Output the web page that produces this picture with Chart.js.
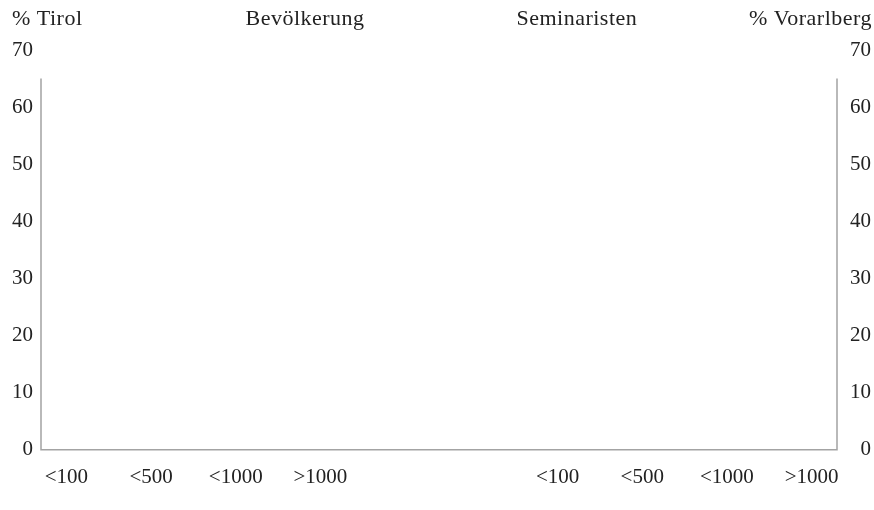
<!DOCTYPE html>
<html>
<head>
<meta charset="utf-8">
<script src="https://cdn.jsdelivr.net/npm/chart.js@4.4.0/dist/chart.umd.min.js"></script>
<style>
  html, body { margin: 0; padding: 0; background: #ffffff; }
  #c { display: block; }
</style>
</head>
<body>
<canvas id="c" width="874" height="510"></canvas>
<script>
// ---- data (no bars are visible, so all values are 0) ----
// category slots: empty strings are spacer slots between the labelled size classes
const categories = [
  '', '<100', '', '', '', '', '<500', '', '', '', '', '<1000', '', '', '', '', '>1000',
  '', '', '', '', '', '', '', '', '', '', '', '', '',
  '<100', '', '', '', '', '<500', '', '', '', '', '<1000', '', '', '', '', '>1000', ''
];
const tirolValues = [
  null, 0, null, null, null, null, 0, null, null, null, null, 0, null, null, null, null, 0,
  null, null, null, null, null, null, null, null, null, null, null, null, null,
  0, null, null, null, null, 0, null, null, null, null, 0, null, null, null, null, 0, null
];
const vorarlbergValues = [
  null, 0, null, null, null, null, 0, null, null, null, null, 0, null, null, null, null, 0,
  null, null, null, null, null, null, null, null, null, null, null, null, null,
  0, null, null, null, null, 0, null, null, null, null, 0, null, null, null, null, 0, null
];
const yTickValues = [0, 10, 20, 30, 40, 50, 60, 70];
const leftAxisTitle = '% Tirol';
const rightAxisTitle = '% Vorarlberg';
const groupTitles = ['Bevölkerung', 'Seminaristen'];

const FONT = '"Liberation Serif", "DejaVu Serif", serif';
const TEXT = '#222222';
const AXIS = '#a3a3a3';

const axisLines = {
  id: 'axisLines',
  afterDatasetsDraw(chart) {
    const { ctx, chartArea } = chart;
    const y = chart.scales.yL;
    const top = y.getPixelForValue(65);
    const bottom = y.getPixelForValue(0);
    ctx.save();
    ctx.strokeStyle = AXIS;
    ctx.lineWidth = 1.5;
    ctx.beginPath();
    ctx.moveTo(chartArea.left, top);
    ctx.lineTo(chartArea.left, bottom);
    ctx.lineTo(chartArea.right, bottom);
    ctx.lineTo(chartArea.right, top);
    ctx.stroke();
    ctx.restore();
  }
};

const headers = {
  id: 'headers',
  afterDraw(chart) {
    const ctx = chart.ctx;
    const W = chart.width;
    ctx.save();
    ctx.fillStyle = TEXT;
    ctx.font = '22px ' + FONT;
    ctx.letterSpacing = '0.5px';
    ctx.textBaseline = 'alphabetic';
    const baseY = 25;
    ctx.textAlign = 'left';
    ctx.fillText(leftAxisTitle, 12, baseY);
    ctx.textAlign = 'center';
    ctx.fillText(groupTitles[0], W * 0.349, baseY);
    ctx.fillText(groupTitles[1], W * 0.660, baseY);
    ctx.textAlign = 'right';
    ctx.fillText(rightAxisTitle, W - 2, baseY);
    ctx.restore();
  }
};

new Chart(document.getElementById('c'), {
  type: 'bar',
  data: {
    labels: categories,
    datasets: [
      { label: 'Tirol', data: tirolValues, yAxisID: 'yL', backgroundColor: '#777777', borderWidth: 0 },
      { label: 'Vorarlberg', data: vorarlbergValues, yAxisID: 'yR', backgroundColor: '#333333', borderWidth: 0 }
    ]
  },
  options: {
    responsive: false,
    animation: false,
    devicePixelRatio: 1,
    layout: { padding: { top: 50, left: 0, right: 3, bottom: 5 } },
    plugins: { legend: { display: false }, tooltip: { enabled: false }, title: { display: false } },
    scales: {
      x: {
        type: 'category',
        offset: true,
        grid: { display: false, drawTicks: false },
        border: { display: false },
        ticks: {
          autoSkip: false, maxRotation: 0, minRotation: 0, padding: 15,
          color: TEXT, font: { family: FONT, size: 21 }
        }
      },
      yL: {
        type: 'linear', position: 'left', min: 0, max: 70,
        afterBuildTicks(scale) { scale.ticks = yTickValues.map(v => ({ value: v })); },
        afterFit(scale) { scale.width = 41; },
        grid: { display: false, drawTicks: false },
        border: { display: false },
        ticks: { padding: 8, color: TEXT, font: { family: FONT, size: 21 } }
      },
      yR: {
        type: 'linear', position: 'right', min: 0, max: 70,
        afterBuildTicks(scale) { scale.ticks = yTickValues.map(v => ({ value: v })); },
        afterFit(scale) { scale.width = 34; },
        grid: { display: false, drawTicks: false },
        border: { display: false },
        ticks: { padding: 8, crossAlign: 'far', color: TEXT, font: { family: FONT, size: 21 } }
      }
    }
  },
  plugins: [axisLines, headers]
});
</script>
</body>
</html>
